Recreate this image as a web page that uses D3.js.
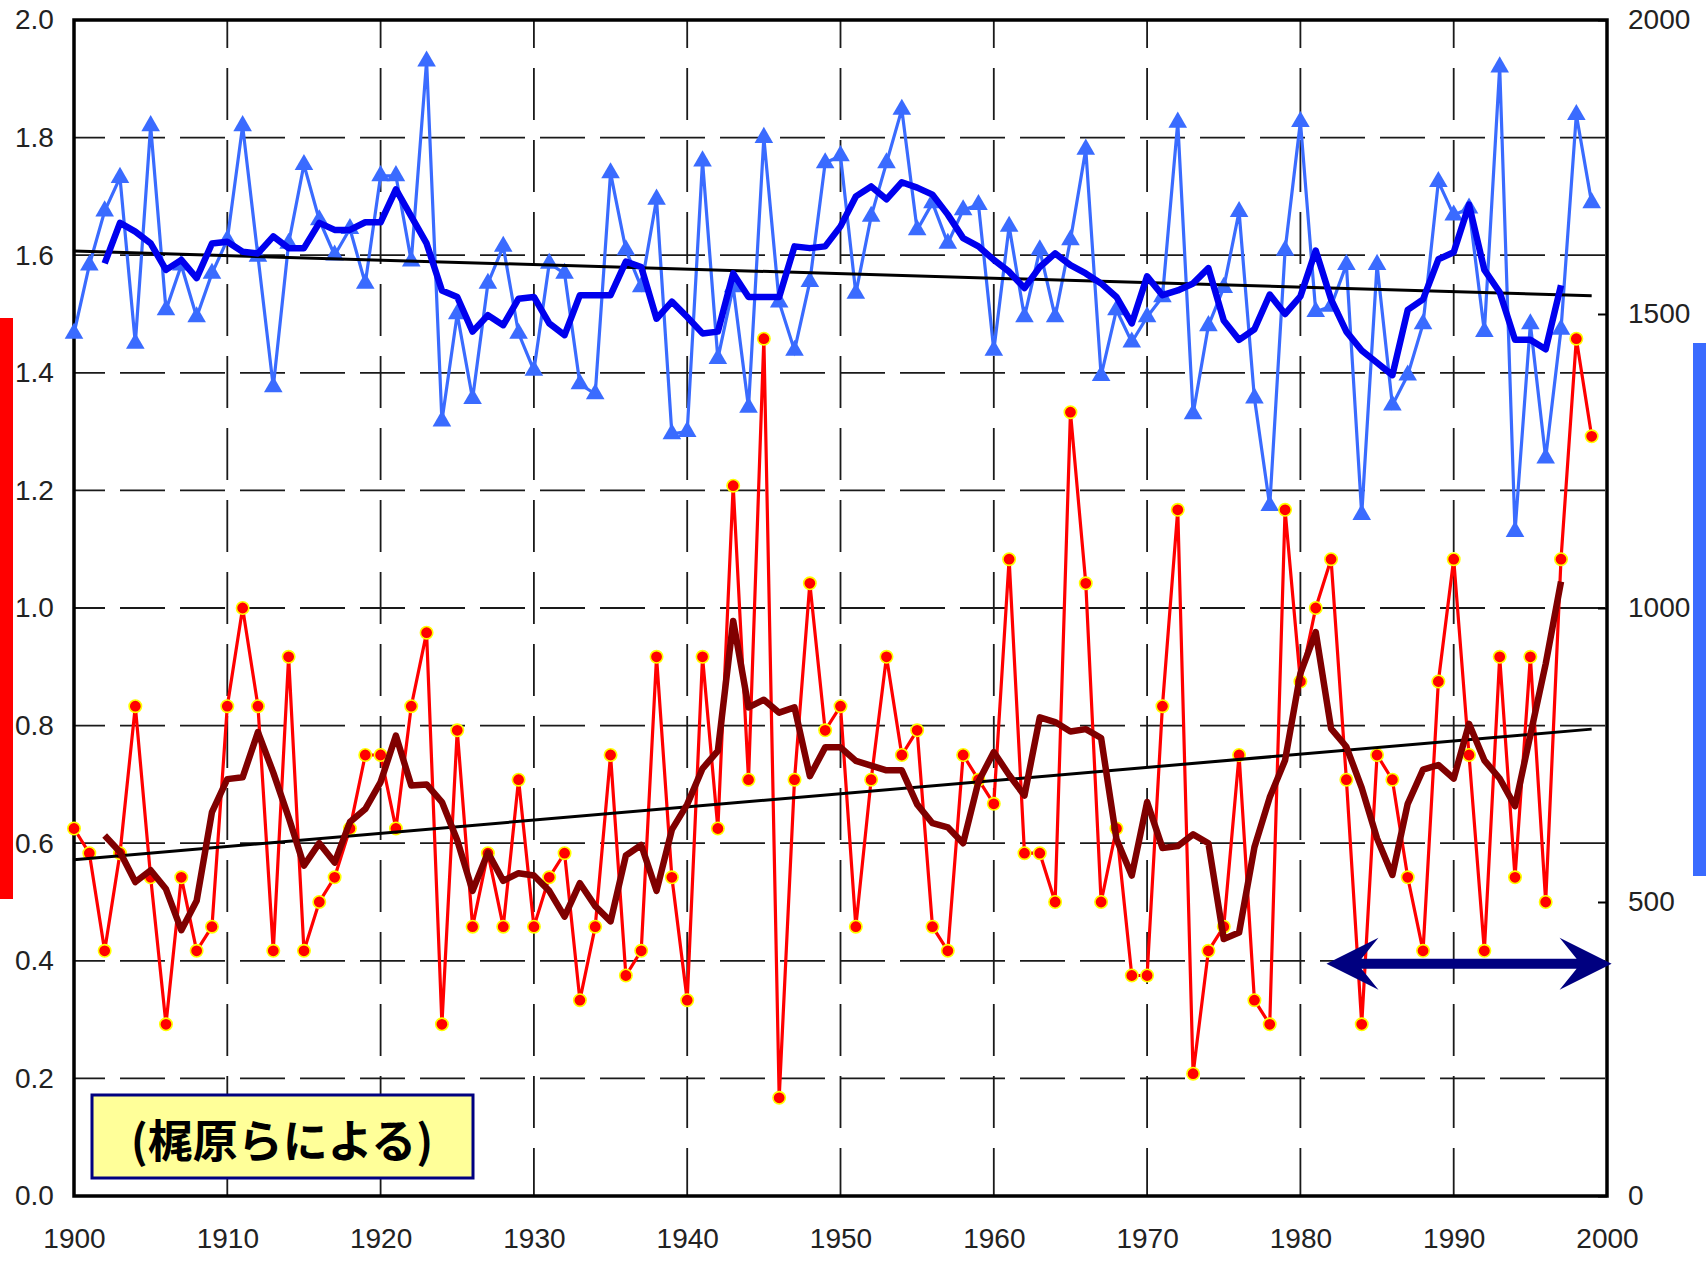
<!DOCTYPE html>
<html>
<head>
<meta charset="utf-8">
<script src="https://cdn.jsdelivr.net/npm/d3@7"></script>
<style>
  body { margin: 0; background: #fff; }
  text { font-family: "Liberation Sans", Arial, sans-serif; }
</style>
</head>
<body>
<svg id="chart" width="1706" height="1261"></svg>
<script>
// yearly series 1900-1999
const firstYear = 1900;
// red: left axis (0-2)
const redValues = [
  0.625, 0.583, 0.417, 0.583, 0.833, 0.542, 0.292, 0.542, 0.417, 0.458,
  0.833, 1.000, 0.833, 0.417, 0.917, 0.417, 0.500, 0.542, 0.625, 0.750,
  0.750, 0.625, 0.833, 0.958, 0.292, 0.792, 0.458, 0.583, 0.458, 0.708,
  0.458, 0.542, 0.583, 0.333, 0.458, 0.750, 0.375, 0.417, 0.917, 0.542,
  0.333, 0.917, 0.625, 1.208, 0.708, 1.458, 0.167, 0.708, 1.042, 0.792,
  0.833, 0.458, 0.708, 0.917, 0.750, 0.792, 0.458, 0.417, 0.750, 0.708,
  0.667, 1.083, 0.583, 0.583, 0.500, 1.333, 1.042, 0.500, 0.625, 0.375,
  0.375, 0.833, 1.167, 0.208, 0.417, 0.458, 0.750, 0.333, 0.292, 1.167,
  0.875, 1.000, 1.083, 0.708, 0.292, 0.750, 0.708, 0.542, 0.417, 0.875,
  1.083, 0.750, 0.417, 0.917, 0.542, 0.917, 0.500, 1.083, 1.458, 1.292
];
// blue: right axis (0-2000)
const blueValues = [
  1467, 1583, 1675, 1732, 1450, 1820, 1507, 1583, 1495, 1569,
  1626, 1820, 1598, 1376, 1620, 1754, 1660, 1600, 1645, 1552,
  1735, 1735, 1590, 1930, 1318, 1500, 1356, 1552, 1615, 1467,
  1404, 1586, 1569, 1381, 1364, 1740, 1609, 1546, 1695, 1296,
  1300, 1760, 1424, 1546, 1341, 1800, 1520, 1438, 1555, 1757,
  1769, 1535, 1666, 1757, 1848, 1643, 1689, 1620, 1677, 1686,
  1438, 1649, 1495, 1609, 1495, 1626, 1780, 1395, 1507, 1452,
  1495, 1529, 1826, 1330, 1480, 1545, 1674, 1357, 1174, 1608,
  1827, 1504, 1513, 1584, 1159, 1584, 1345, 1396, 1483, 1725,
  1668, 1680, 1470, 1920, 1130, 1483, 1255, 1474, 1839, 1689
];

// running means, 1902-1997
const meanFirstYear = 1902;
const redMean = [
  0.613, 0.585, 0.534, 0.554, 0.522, 0.452, 0.502, 0.653,
  0.709, 0.712, 0.789, 0.720, 0.644, 0.562, 0.600, 0.567, 0.636, 0.658,
  0.704, 0.783, 0.698, 0.700, 0.670, 0.605, 0.519, 0.584, 0.536, 0.549,
  0.545, 0.519, 0.475, 0.532, 0.493, 0.467, 0.579, 0.597, 0.519, 0.623,
  0.666, 0.727, 0.757, 0.978, 0.831, 0.844, 0.822, 0.831, 0.714, 0.763,
  0.763, 0.740, 0.732, 0.724, 0.724, 0.666, 0.634, 0.627, 0.600, 0.705,
  0.755, 0.716, 0.681, 0.814, 0.806, 0.790, 0.794, 0.779, 0.607, 0.545,
  0.670, 0.592, 0.595, 0.615, 0.600, 0.437, 0.448, 0.593, 0.678, 0.741,
  0.889, 0.959, 0.795, 0.764, 0.694, 0.608, 0.546, 0.667, 0.725, 0.733,
  0.710, 0.803, 0.741, 0.710, 0.663, 0.784, 0.905, 1.045
];
const blueMean = [
  1586, 1655, 1640, 1620, 1575, 1592, 1561, 1620,
  1623, 1606, 1603, 1632, 1612, 1612, 1655, 1643, 1643, 1656,
  1656, 1712, 1666, 1620, 1540, 1529, 1470, 1498, 1481, 1526,
  1529, 1484, 1464, 1532, 1532, 1532, 1589, 1580, 1492, 1521,
  1495, 1467, 1470, 1569, 1529, 1529, 1529, 1615, 1612, 1615,
  1649, 1700, 1717, 1695, 1724, 1715, 1703, 1669, 1629, 1615,
  1592, 1572, 1544, 1580, 1603, 1583, 1569, 1552, 1529, 1484,
  1564, 1532, 1540, 1552, 1578, 1489, 1456, 1474, 1533, 1500,
  1530, 1608, 1525, 1470, 1438, 1417, 1396, 1507, 1525, 1593,
  1605, 1686, 1575, 1537, 1456, 1456, 1440, 1549
];

// linear trends, [year, value]
const redTrend = [[1900, 0.572], [1999, 0.794]];
const blueTrend = [[1900, 1607], [1999, 1531]];

// axes
const leftTicks = [0, 0.2, 0.4, 0.6, 0.8, 1.0, 1.2, 1.4, 1.6, 1.8, 2.0];
const rightTicks = [0, 500, 1000, 1500, 2000];
const yearTicks = [1900, 1910, 1920, 1930, 1940, 1950, 1960, 1970, 1980, 1990, 2000];
const sourceLabel = "(梶原らによる)";
const arrowSpan = [1981.7, 2000.3];
const arrowLevel = 0.395;

const svg = d3.select("#chart");
const plotLeft = 74, plotRight = 1607, plotTop = 20, plotBottom = 1196;

const x = d3.scaleLinear().domain([1900, 2000]).range([plotLeft, plotRight]);
const yL = d3.scaleLinear().domain([0, 2]).range([plotBottom, plotTop]);
const yR = d3.scaleLinear().domain([0, 2000]).range([plotBottom, plotTop]);

const redData = redValues.map((v, i) => [firstYear + i, v]);
const blueData = blueValues.map((v, i) => [firstYear + i, v]);
const redMeanData = redMean.map((v, i) => [meanFirstYear + i, v]);
const blueMeanData = blueMean.map((v, i) => [meanFirstYear + i, v]);

svg.append("rect").attr("width", 1706).attr("height", 1261).attr("fill", "#fff");

// side colour bars
svg.append("rect").attr("x", 0).attr("y", 318).attr("width", 13).attr("height", 581).attr("fill", "#ff0000");
svg.append("rect").attr("x", 1693).attr("y", 343).attr("width", 13).attr("height", 533).attr("fill", "#3a6bff");

// dashed grid
const grid = svg.append("g").attr("stroke", "#1a1a1a").attr("stroke-width", 1.8);
grid.selectAll(".h")
  .data(leftTicks.filter(d => d > 0 && d < 2))
  .enter().append("line")
  .attr("x1", plotLeft).attr("x2", plotRight)
  .attr("y1", d => yL(d)).attr("y2", d => yL(d))
  .attr("stroke-dasharray", "45,15")
  .attr("stroke-dashoffset", 14);
grid.selectAll(".v")
  .data(yearTicks.filter(d => d > 1900 && d < 2000))
  .enter().append("line")
  .attr("x1", d => x(d)).attr("x2", d => x(d))
  .attr("y1", plotTop).attr("y2", plotBottom)
  .attr("stroke-dasharray", "52,20")
  .attr("stroke-dashoffset", 24);

// axes
const axisL = svg.append("g")
  .attr("transform", `translate(${plotLeft},0)`)
  .call(d3.axisLeft(yL).tickValues(leftTicks).tickFormat(d3.format(".1f")).tickSize(0).tickPadding(22));
const axisR = svg.append("g")
  .attr("transform", `translate(${plotRight},0)`)
  .call(d3.axisRight(yR).tickValues(rightTicks).tickFormat(d3.format("d"))
    .tickSizeInner(-9).tickSizeOuter(0).tickPadding(21));
const axisB = svg.append("g")
  .attr("transform", `translate(0,${plotBottom})`)
  .call(d3.axisBottom(x).tickValues(yearTicks).tickFormat(d3.format("d")).tickSize(0).tickPadding(32));

[axisL, axisR, axisB].forEach(a => {
  a.select(".domain").remove();
  a.selectAll("text")
    .attr("fill", "#222")
    .style("font-size", "28px")
    .style("font-family", "'Liberation Sans', Arial, sans-serif");
  a.selectAll("line").attr("stroke", "#000").attr("stroke-width", 2);
});
axisL.selectAll("text").attr("text-anchor", "start").attr("x", 15 - plotLeft);

// frame
svg.append("rect")
  .attr("x", plotLeft).attr("y", plotTop)
  .attr("width", plotRight - plotLeft).attr("height", plotBottom - plotTop)
  .attr("fill", "none").attr("stroke", "#000").attr("stroke-width", 3.5);

const lineL = d3.line().x(d => x(d[0])).y(d => yL(d[1]));
const lineR = d3.line().x(d => x(d[0])).y(d => yR(d[1]));

// blue series
svg.append("path").datum(blueData)
  .attr("d", lineR).attr("fill", "none")
  .attr("stroke", "#3a6bff").attr("stroke-width", 3.2);
svg.append("g").selectAll("path")
  .data(blueData)
  .enter().append("path")
  .attr("d", d3.symbol(d3.symbolTriangle, 150))
  .attr("transform", d => `translate(${x(d[0])},${yR(d[1])})`)
  .attr("fill", "#3a6bff");

// red series
svg.append("path").datum(redData)
  .attr("d", lineL).attr("fill", "none")
  .attr("stroke", "#ff0000").attr("stroke-width", 3.2);
svg.append("g").selectAll("circle")
  .data(redData)
  .enter().append("circle")
  .attr("cx", d => x(d[0])).attr("cy", d => yL(d[1]))
  .attr("r", 6.2)
  .attr("fill", "#ff0000").attr("stroke", "#ffff00").attr("stroke-width", 1.6);

// trends
svg.append("path").datum(blueTrend)
  .attr("d", lineR).attr("fill", "none").attr("stroke", "#000").attr("stroke-width", 3);
svg.append("path").datum(redTrend)
  .attr("d", lineL).attr("fill", "none").attr("stroke", "#000").attr("stroke-width", 3);

// running means
svg.append("path").datum(blueMeanData)
  .attr("d", lineR).attr("fill", "none")
  .attr("stroke", "#0000ee").attr("stroke-width", 6.5).attr("stroke-linejoin", "round");
svg.append("path").datum(redMeanData)
  .attr("d", lineL).attr("fill", "none")
  .attr("stroke", "#800000").attr("stroke-width", 6.5).attr("stroke-linejoin", "round");

// double arrow
const ax0 = x(arrowSpan[0]), ax1 = x(arrowSpan[1]), ay = yL(arrowLevel);
const arrow = d3.path();
arrow.moveTo(ax0, ay);
arrow.lineTo(ax0 + 52, ay - 26);
arrow.lineTo(ax0 + 35, ay - 5);
arrow.lineTo(ax1 - 35, ay - 5);
arrow.lineTo(ax1 - 52, ay - 26);
arrow.lineTo(ax1, ay);
arrow.lineTo(ax1 - 52, ay + 26);
arrow.lineTo(ax1 - 35, ay + 5);
arrow.lineTo(ax0 + 35, ay + 5);
arrow.lineTo(ax0 + 52, ay + 26);
arrow.closePath();
svg.append("path").attr("d", arrow.toString()).attr("fill", "#000080");

// source box
svg.append("rect")
  .attr("x", 92).attr("y", 1095).attr("width", 381).attr("height", 83)
  .attr("fill", "#ffff99").attr("stroke", "#000080").attr("stroke-width", 3);
svg.append("text")
  .attr("x", 282).attr("y", 1138)
  .attr("text-anchor", "middle")
  .attr("dominant-baseline", "central")
  .style("font-family", "'Noto Sans CJK JP', sans-serif")
  .style("font-weight", "bold")
  .style("font-size", "45px")
  .attr("fill", "#000")
  .text(sourceLabel);
</script>
</body>
</html>
